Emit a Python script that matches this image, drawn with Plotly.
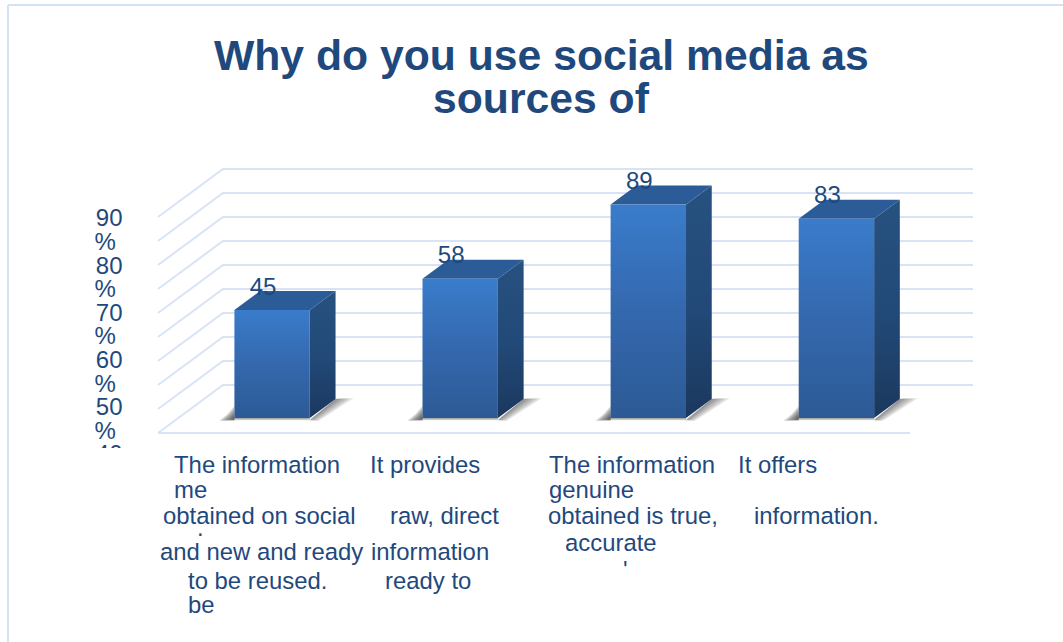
import plotly.graph_objects as go

# Survey results
values = [45, 58, 89, 83]
value_labels = ["45", "58", "89", "83"]
grid_levels = [0, 10, 20, 30, 40, 50, 60, 70, 80, 90]

# Value axis text: the numbers and their wrapped percent signs sit on separate lines
axis_ticks = [90, 85, 80, 75, 70, 65, 60, 55, 50, 45, 40]
axis_text = ["90", "%\u00a0", "80", "%\u00a0", "70", "%\u00a0", "60", "%\u00a0", "50", "%\u00a0", "40"]

title_lines = ["Why do you use social media as", "sources of"]
category_lines = [
    ["The information", "me", "obtained on social", ".", "and new and ready", "to be reused.", "be"],
    ["It provides", "raw, direct", "information", "ready to"],
    ["The information", "genuine", "obtained is true,", "accurate", "'"],
    ["It offers", "information."],
]

# Placement of each category line on the page (left edge, vertical centre)
category_places = [
    [(174, 464), (174, 489), (163, 515), (197, 527), (160, 551), (188, 580), (188, 604)],
    [(370, 464), (390, 515), (371, 551), (385, 580)],
    [(549, 464), (549, 489), (548, 515), (565, 542), (623, 569)],
    [(738, 464), (754, 515)],
]

WIDTH, HEIGHT = 1063, 642
NAVY = "#1f497d"
GRID = "#d8e4f5"
FONT = "Liberation Sans"

# Page mapping of the oblique projection
CAT_STEP = 188.1
CAT_ORIGIN = 251.8
PX_PER_VALUE = 2.4
FLOOR_Y = 433.0
DEPTH_DX = 65.0 / CAT_STEP   # category units across the full floor depth
DEPTH_DY = 48.0 / PX_PER_VALUE  # value units across the full floor depth
BAR_HALF = 37.7 / CAT_STEP
BAR_NEAR = 15.0 / 48.0
BAR_FAR = 34.0 / 48.0
LEFT_EDGE = (158.0 - CAT_ORIGIN) / CAT_STEP
RIGHT_EDGE = (910.0 - CAT_ORIGIN) / CAT_STEP
BACK_RIGHT_TRIM = 2.0 / CAT_STEP


def project(cat, value, depth):
    return cat + depth * DEPTH_DX, value + depth * DEPTH_DY


def polygon(points, **style):
    xs, ys = zip(*points)
    return go.Scatter(
        x=list(xs) + [xs[0]], y=list(ys) + [ys[0]], mode="lines", fill="toself",
        line=dict(width=0), hoverinfo="skip", showlegend=False, **style
    )


def gradient(kind, colors):
    n = len(colors) - 1
    return dict(type=kind, colorscale=[[k / n, c] for k, c in enumerate(colors)])


fig = go.Figure()

# Floor edge, side wall and back wall rules
grid_x, grid_y = [], []
for level in grid_levels:
    a = project(LEFT_EDGE, level, 0)
    b = project(LEFT_EDGE, level, 1)
    c = project(RIGHT_EDGE - BACK_RIGHT_TRIM, level, 1)
    grid_x += [a[0], b[0], c[0], None]
    grid_y += [a[1], b[1], c[1], None]
floor_a, floor_b = project(LEFT_EDGE, 0, 0), project(RIGHT_EDGE, 0, 0)
grid_x += [floor_a[0], floor_b[0]]
grid_y += [floor_a[1], floor_b[1]]
fig.add_trace(go.Scatter(x=grid_x, y=grid_y, mode="lines", line=dict(color=GRID, width=2),
                         hoverinfo="skip", showlegend=False))

SHADOW_SIDE = "rgba(70,70,70,0.14)"
SHADOW_LEFT = "rgba(60,60,60,0.22)"
SHADOW_BASE = "rgba(90,90,90,0.16)"
for i, v in enumerate(values):
    left, right = i - BAR_HALF, i + BAR_HALF
    # Floor shadows, built up from overlapping translucent layers so the edge fades out
    for spread in [1.0, 0.82, 0.64, 0.46, 0.3, 0.16]:
        fig.add_trace(polygon(
            [project(right, -0.5 - spread * 0.6, BAR_NEAR),
             project(right, 0.0, BAR_FAR),
             project(right + 18.0 * spread / CAT_STEP, 0.3, BAR_FAR),
             project(right + 9.0 * spread / CAT_STEP, -0.5 - spread * 0.6, BAR_NEAR)],
            fillcolor=SHADOW_SIDE,
        ))
        fig.add_trace(polygon(
            [project(left, -0.5 - spread * 0.6, BAR_NEAR),
             project(left, 5.0 * spread, BAR_NEAR),
             project(left - 7.0 * spread / CAT_STEP, 1.6 * spread, BAR_NEAR),
             project(left - 15.0 * spread / CAT_STEP, -0.5 - spread * 0.6, BAR_NEAR)],
            fillcolor=SHADOW_LEFT,
        ))
        fig.add_trace(polygon(
            [project(left, -0.9 * spread, BAR_NEAR), project(right, -0.9 * spread, BAR_NEAR),
             project(right, 0, BAR_NEAR), project(left, 0, BAR_NEAR)],
            fillcolor=SHADOW_BASE,
        ))
    # Right side
    fig.add_trace(polygon(
        [project(right, 0, BAR_NEAR), project(right, 0, BAR_FAR),
         project(right, v, BAR_FAR), project(right, v, BAR_NEAR)],
        fillgradient=gradient("vertical", ["#1b385e", "#224a79", "#27517f"]),
    ))
    # Top
    fig.add_trace(polygon(
        [project(left, v, BAR_NEAR), project(right, v, BAR_NEAR),
         project(right, v, BAR_FAR), project(left, v, BAR_FAR)],
        fillcolor="#2c5c98",
    ))
    # Front
    fig.add_trace(polygon(
        [project(left, 0, BAR_NEAR), project(right, 0, BAR_NEAR),
         project(right, v, BAR_NEAR), project(left, v, BAR_NEAR)],
        fillgradient=gradient("vertical", ["#2c5a95", "#3468ae", "#3a7ccb"]),
    ))

# Value labels above the columns
label_x, label_y = [], []
for i, v in enumerate(values):
    px, py = project(i, v, BAR_NEAR)
    label_x.append(px - 9.0 / CAT_STEP)
    label_y.append(py + 21.5 / PX_PER_VALUE)
fig.add_trace(go.Scatter(x=label_x, y=label_y, mode="text", text=value_labels,
                         textposition="middle center",
                         textfont=dict(family=FONT, size=24, color=NAVY),
                         hoverinfo="skip", showlegend=False))

# Carries the separate scale of the value axis text
fig.add_trace(go.Scatter(x=[0] * len(axis_ticks), y=axis_ticks, yaxis="y2", mode="lines",
                         line=dict(width=0), hoverinfo="skip", showlegend=False))

annotations = []
for line, yc in zip(title_lines, [55, 98]):
    annotations.append(dict(text=f"<b>{line}</b>", xref="paper", yref="paper", x=541 / WIDTH,
                            y=1 - yc / HEIGHT, xanchor="center", yanchor="middle", showarrow=False,
                            font=dict(family=FONT, size=42.7, color=NAVY)))
for lines, places in zip(category_lines, category_places):
    for line, (lx, ly) in zip(lines, places):
        annotations.append(dict(text=line, xref="paper", yref="paper", x=lx / WIDTH,
                                y=1 - ly / HEIGHT, xanchor="left", yanchor="middle", showarrow=False,
                                xshift=-2, font=dict(family=FONT, size=23.9, color=NAVY)))

# 40 % falls outside its slot, so only the tops of the digits show
cover = dict(type="rect", xref="paper", yref="paper", layer="above", line=dict(width=0),
             fillcolor="white", x0=85 / WIDTH, x1=140 / WIDTH,
             y0=1 - 475 / HEIGHT, y1=1 - 448 / HEIGHT)
# Chart frame: only the top and left edges fall inside the page
frame_top = dict(type="line", xref="paper", yref="paper", layer="below", x0=8 / WIDTH, x1=1,
                 y0=1 - 5 / HEIGHT, y1=1 - 5 / HEIGHT, line=dict(color="#d5e2f5", width=2))
frame_left = dict(type="line", xref="paper", yref="paper", layer="below", x0=8 / WIDTH, x1=8 / WIDTH,
                  y0=0, y1=1 - 5 / HEIGHT, line=dict(color="#d5e2f5", width=2))

fig.update_layout(
    width=WIDTH, height=HEIGHT, autosize=False,
    margin=dict(l=0, r=0, t=0, b=0),
    paper_bgcolor="white", plot_bgcolor="white",
    showlegend=False,
    xaxis=dict(visible=False, range=[-CAT_ORIGIN / CAT_STEP, (WIDTH - CAT_ORIGIN) / CAT_STEP], fixedrange=True),
    yaxis=dict(visible=False, range=[(FLOOR_Y - HEIGHT) / PX_PER_VALUE, FLOOR_Y / PX_PER_VALUE], fixedrange=True),
    yaxis2=dict(
        overlaying="y", anchor="free", position=122.5 / WIDTH, side="left",
        range=[90 - (HEIGHT - 218) / 4.72, 90 + 218 / 4.72], fixedrange=True,
        tickmode="array", tickvals=axis_ticks, ticktext=axis_text,
        showgrid=False, zeroline=False, showline=False, ticks="",
        tickfont=dict(family=FONT, size=24, color=NAVY),
    ),
    annotations=annotations,
    shapes=[frame_top, frame_left, cover],
)

fig.write_html("out.html", config={"displayModeBar": False})
